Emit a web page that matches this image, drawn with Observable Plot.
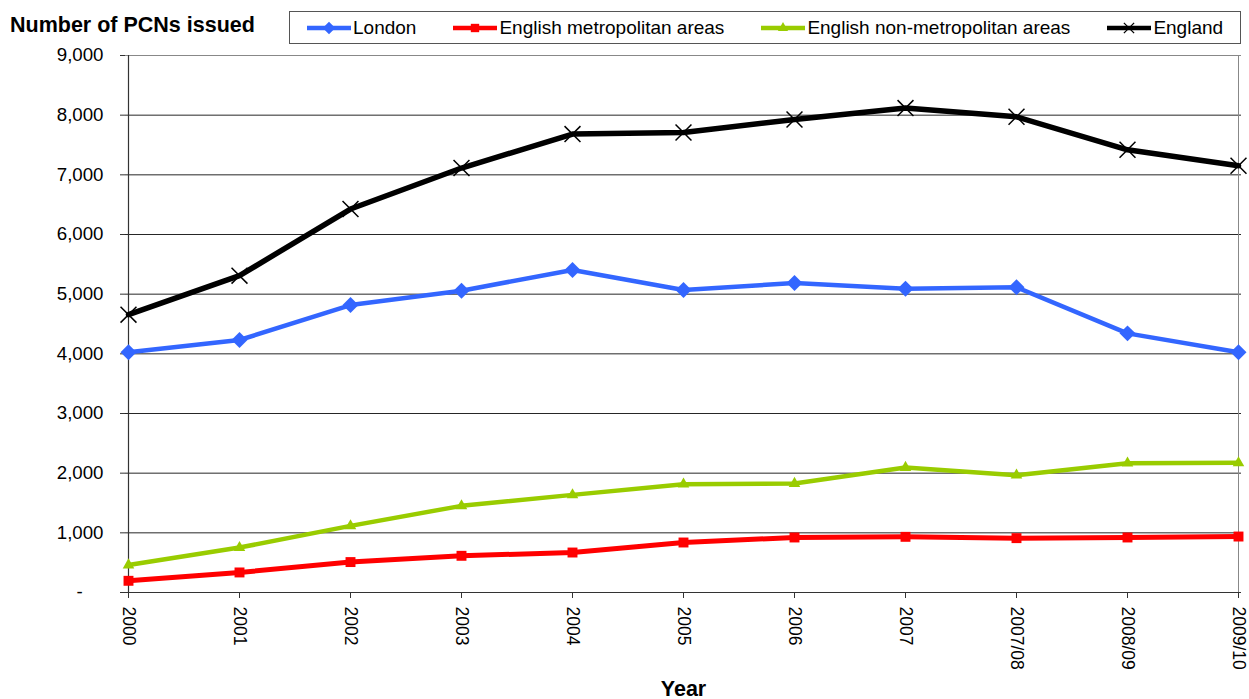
<!DOCTYPE html>
<html><head><meta charset="utf-8">
<script src="https://cdn.jsdelivr.net/npm/d3@7"></script>
<script src="https://cdn.jsdelivr.net/npm/@observablehq/plot@0.6"></script>
<style>
body{margin:0;background:#fff;font-family:"Liberation Sans",Arial,sans-serif;color:#000}
#wrap{position:relative;width:1249px;height:699px;overflow:hidden}
#header{position:relative;height:38px}
#title{position:absolute;left:10px;top:14.8px;font-weight:bold;font-size:21.5px;line-height:21.5px;white-space:nowrap}
#legend{position:absolute;left:289px;top:11px;width:952px;height:33px;border:1px solid #555;box-sizing:border-box;display:flex;align-items:center;padding-left:17px;padding-top:1px;background:#fff}
.item{display:flex;align-items:center;margin-right:37px;font-size:19px;white-space:nowrap}
.item svg{margin-right:2px;overflow:visible}
#chart svg{background:transparent}
g[aria-label="x-axis label"] text{font-weight:bold;font-size:21.5px}
</style>
</head><body>
<div id="wrap">
  <div id="header">
    <div id="title">Number of PCNs issued</div>
    <div id="legend"></div>
  </div>
  <div id="chart"></div>
</div>
<script>
const years = ["2000","2001","2002","2003","2004","2005","2006","2007","2007/08","2008/09","2009/10"];
const seriesNames = ["London","English metropolitan areas","English non-metropolitan areas","England"];
const london   = [4025,4232,4818,5058,5405,5070,5188,5092,5114,4343,4025];
const metro    = [196,336,510,615,670,838,922,933,911,922,938];
const nonMetro = [460,753,1117,1452,1636,1815,1826,2094,1966,2167,2173];
const england  = [4657,5310,6427,7114,7683,7710,7928,8119,7973,7420,7152];
const yTicks = [0,1000,2000,3000,4000,5000,6000,7000,8000,9000];

const colors  = ["#3366FF","#FF0000","#99CC00","#000000"];
const symbols = ["diamond2","square","triangle","times"];
const widths  = [4.5,5,4.5,5.5];
const radii   = [7.2,5.6,4.3,7.3];
const values  = [london, metro, nonMetro, england];

const rows = seriesNames.map((s,i)=>years.map((y,j)=>({series:s, year:y, value:values[i][j]})));

const marks = [
  Plot.gridY(yTicks.slice(1, -1), {stroke:"#000", strokeOpacity:0.85, strokeWidth:1}),
  Plot.ruleY([yTicks[yTicks.length-1]], {stroke:"#888", strokeWidth:1}),
  Plot.ruleX([years[years.length-1]], {stroke:"#888", strokeWidth:1}),
  Plot.ruleX([years[0]], {stroke:"#333", strokeWidth:1.2}),
  Plot.ruleY([0], {stroke:"#333", strokeWidth:1.2}),
  Plot.axisY({ticks:yTicks, tickSize:5, tickPadding:17, stroke:"#333",
    tickFormat:d=> d===0 ? "-\u00a0\u00a0\u00a0\u00a0" : d3.format(",")(d),
    fontSize:18.7, label:null}),
  Plot.axisX({tickSize:6, tickPadding:8, tickRotate:90, fontSize:17.5, stroke:"#333",
    label:"Year", labelAnchor:"center", labelOffset:103})
];
rows.forEach((r,i)=>{
  marks.push(Plot.line(r,{x:"year", y:"value", stroke:colors[i], strokeWidth:widths[i], strokeLinejoin:"round"}));
  if (symbols[i]==="times")
    marks.push(Plot.dot(r,{x:"year", y:"value", symbol:"times", r:radii[i], stroke:colors[i], strokeWidth:1.5}));
  else
    marks.push(Plot.dot(r,{x:"year", y:"value", symbol:symbols[i], r:radii[i], fill:colors[i], stroke:"none"}));
});

const chart = Plot.plot({
  width:1249, height:661,
  marginTop:17, marginBottom:107, marginLeft:125, marginRight:8,
  style:{fontFamily:"'Liberation Sans', Arial, sans-serif", color:"#000", background:"transparent"},
  x:{type:"point", domain:years, padding:0},
  y:{domain:[0,9000]},
  marks
});
document.getElementById("chart").appendChild(chart);

// legend
const symMap = {diamond2:d3.symbolDiamond2, square:d3.symbolSquare, triangle:d3.symbolTriangle, times:d3.symbolTimes};
const legendSizes = [100,70,45,70];
const legend = document.getElementById("legend");
seriesNames.forEach((name,i)=>{
  const item = document.createElement("div");
  item.className = "item";
  const svg = d3.create("svg").attr("width",44).attr("height",16);
  svg.append("line").attr("x1",0).attr("x2",44).attr("y1",8).attr("y2",8)
    .attr("stroke",colors[i]).attr("stroke-width",4.5);
  const p = svg.append("path").attr("transform","translate(22,8)")
    .attr("d", d3.symbol(symMap[symbols[i]], legendSizes[i])());
  if (symbols[i]==="times") p.attr("fill","none").attr("stroke",colors[i]).attr("stroke-width",1.3);
  else p.attr("fill",colors[i]);
  item.appendChild(svg.node());
  const span = document.createElement("span");
  span.textContent = name;
  item.appendChild(span);
  legend.appendChild(item);
});
</script>
</body></html>
